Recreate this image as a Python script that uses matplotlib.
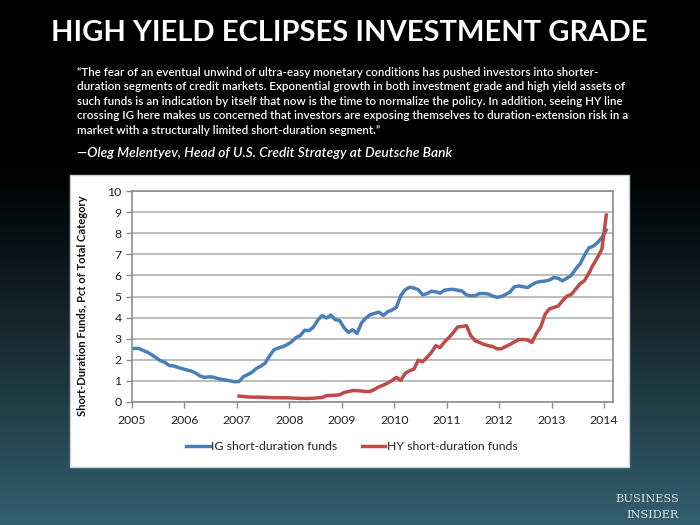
import numpy as np
import matplotlib
matplotlib.use('Agg')
import matplotlib.pyplot as plt
from matplotlib.patches import Rectangle

# Share of short-duration funds, monthly (pct of total category)
ig_start = 2005
ig_values = [2.54, 2.54, 2.45, 2.36, 2.24, 2.10, 1.96, 1.88, 1.73, 1.71, 1.64, 1.58,
             1.52, 1.47, 1.38, 1.24, 1.17, 1.19, 1.18, 1.12, 1.07, 1.04, 1.00, 0.96,
             0.97, 1.20, 1.30, 1.42, 1.60, 1.70, 1.85, 2.20, 2.48, 2.56, 2.62, 2.72,
             2.85, 3.05, 3.15, 3.40, 3.38, 3.55, 3.88, 4.10, 3.98, 4.12, 3.90, 3.86,
             3.52, 3.30, 3.42, 3.25, 3.75, 3.98, 4.14, 4.20, 4.26, 4.10, 4.28, 4.36,
             4.50, 5.05, 5.32, 5.44, 5.40, 5.32, 5.08, 5.14, 5.25, 5.22, 5.16, 5.30,
             5.33, 5.34, 5.30, 5.26, 5.08, 5.03, 5.04, 5.14, 5.14, 5.12, 5.02, 4.96,
             5.00, 5.10, 5.22, 5.46, 5.50, 5.46, 5.42, 5.56, 5.67, 5.71, 5.73, 5.78,
             5.90, 5.86, 5.74, 5.87, 6.00, 6.30, 6.55, 6.95, 7.30, 7.38, 7.55, 7.80,
             8.15]

hy_start = 2007
hy_values = [0.28, 0.26, 0.24, 0.23, 0.23, 0.23, 0.22, 0.21, 0.20, 0.20, 0.20, 0.20,
             0.19, 0.18, 0.17, 0.17, 0.17, 0.18, 0.20, 0.21, 0.30, 0.31, 0.32, 0.34,
             0.45, 0.50, 0.54, 0.54, 0.52, 0.50, 0.50, 0.60, 0.72, 0.80, 0.90, 1.02,
             1.17, 1.02, 1.36, 1.48, 1.56, 1.98, 1.91, 2.12, 2.35, 2.67, 2.58, 2.85,
             3.05, 3.29, 3.56, 3.58, 3.62, 3.15, 2.90, 2.82, 2.73, 2.67, 2.63, 2.52,
             2.52, 2.63, 2.73, 2.85, 2.96, 2.96, 2.94, 2.82, 3.25, 3.55, 4.15, 4.42,
             4.48, 4.55, 4.80, 5.02, 5.10, 5.35, 5.60, 5.75, 6.10, 6.50, 6.85, 7.25,
             8.86]

years = list(range(2005, 2015))
yticks = list(range(0, 11))

title = 'HIGH YIELD ECLIPSES INVESTMENT GRADE'
quote_lines = [
    '\u201cThe fear of an eventual unwind of ultra-easy monetary conditions has pushed investors into shorter-',
    'duration segments of credit markets. Exponential growth in both investment grade and high yield assets of',
    'such funds is an indication by itself that now is the time to normalize the policy. In addition, seeing HY line',
    'crossing IG here makes us concerned that investors are exposing themselves to duration-extension risk in a',
    'market with a structurally limited short-duration segment.\u201d',
]
attribution = '\u2014Oleg Melentyev, Head of U.S. Credit Strategy at Deutsche Bank'

# month midpoints as decimal years
ig_x = ig_start + (np.arange(len(ig_values)) + 0.5) / 12
hy_x = hy_start + (np.arange(len(hy_values)) + 0.5) / 12

plt.rcParams['font.family'] = ['Lato', 'DejaVu Sans']

fig = plt.figure(figsize=(7, 5.25), dpi=100)

# dark gradient background
bg = fig.add_axes([0, 0, 1, 1], zorder=-1)
h = 525
t = np.clip((np.arange(h) - 165) / (525 - 165), 0, 1) ** 1.1
base = np.array([0x33, 0x60, 0x70]) / 255
grad = np.outer(t, base).reshape(h, 1, 3)
bg.imshow(np.repeat(grad, 2, axis=1), aspect='auto', extent=[0, 1, 0, 1], origin='upper')
bg.axis('off')

# white chart panel
fig.patches.append(Rectangle((70 / 700, 1 - 467 / 525), (629 - 70) / 700, (467 - 175) / 525,
                             transform=fig.transFigure, facecolor='white',
                             edgecolor='#d0d0d0', linewidth=1, zorder=0.5))

fig.text(0.499, 1 - 33 / 525, title, color='white', fontsize=21, fontweight='bold',
         ha='center', va='center')
for i, line in enumerate(quote_lines):
    fig.text(77 / 700, 1 - (72 + i * 14.6) / 525, line, color='white', fontsize=8.4,
             ha='left', va='center', fontweight='semibold')
fig.text(77 / 700, 1 - 153 / 525, attribution, color='white', fontsize=9.9,
         style='italic', fontweight='semibold', ha='left', va='center')

ax = fig.add_axes([132 / 700, 1 - 402 / 525, (613 - 132) / 700, (402 - 191) / 525], zorder=2)
ax.set_facecolor('white')
ax.plot(ig_x, ig_values, color='#4a7ebb', linewidth=2.5, label='IG short-duration funds',
        solid_joinstyle='round')
ax.plot(hy_x, hy_values, color='#be4b48', linewidth=2.5, label='HY short-duration funds',
        solid_joinstyle='round')

ax.set_xlim(2005, 2014.17)
ax.set_ylim(0, 10)
ax.set_xticks(years)
ax.set_yticks(yticks)
ax.grid(axis='y', color='#b0b0b0', linewidth=1.2)
ax.set_axisbelow(True)
for s in ax.spines.values():
    s.set_color('#8c8c8c')
    s.set_linewidth(1.2)
ax.tick_params(axis='both', colors='#8c8c8c', labelcolor='#222222', labelsize=8.8,
               length=4, width=1)
ax.tick_params(axis='x', pad=5)
ax.set_ylabel('Short-Duration Funds, Pct of Total Category', fontsize=8.1,
              fontweight='bold', color='#111111')
ax.yaxis.set_label_coords(-0.092, 0.455)

fig.legend(loc='center', bbox_to_anchor=(0.503, 1 - 447 / 525), ncol=2, frameon=False,
           fontsize=8.8, handlelength=1.9, columnspacing=2.0, handletextpad=0.15,
           labelcolor='#222222')

fig.text(679 / 700, 1 - 499 / 525, 'BUSINESS', color='#dfe6e8', fontsize=8.2,
         family='DejaVu Serif', ha='right', va='center')
fig.text(679 / 700, 1 - 515 / 525, 'INSIDER', color='#dfe6e8', fontsize=8.2,
         family='DejaVu Serif', ha='right', va='center')

fig.savefig('out.png', dpi=100, facecolor='black')
